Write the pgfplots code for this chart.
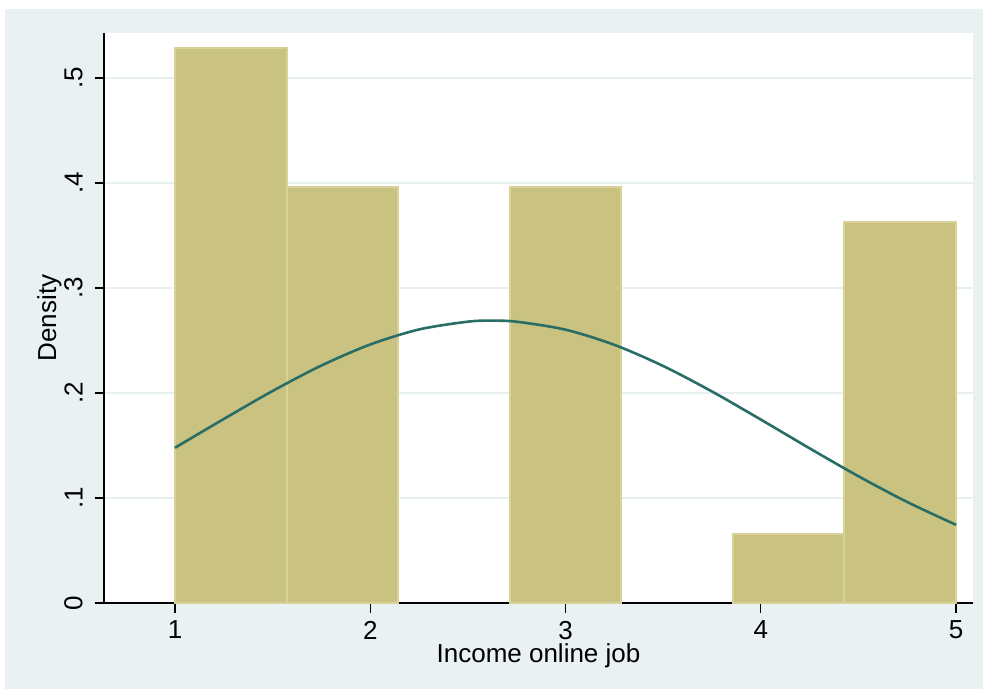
\documentclass[border=0pt]{standalone}
\usepackage{fontspec}
\setmainfont{Liberation Sans}
\usepackage{pgfplots}
\pgfplotsset{compat=1.18}

\definecolor{regionbg}{RGB}{233,241,243}
\definecolor{gridc}{RGB}{232,240,242}
\definecolor{barfill}{RGB}{202,194,128}
\definecolor{barline}{RGB}{216,209,152}
\definecolor{curvec}{RGB}{40,110,102}

\begin{document}
\begin{tikzpicture}
% page and graph region
\useasboundingbox (0,0) rectangle (491.5pt,345pt);
\fill[white] (0,0) rectangle (491.5pt,345pt);
\fill[regionbg] (2.5pt,0.5pt) rectangle (491.5pt,340.5pt);
\fill[white] (52pt,43.5pt) rectangle (486.5pt,328.5pt);
\begin{axis}[
  at={(52pt,43.5pt)}, anchor=south west,
  scale only axis, width=434.5pt, height=285pt,
  font=\fontsize{13}{15}\selectfont,
  /pgf/number format/assume math mode=true,
  xmin=0.6364, xmax=5.0871, ymin=0, ymax=0.5429,
  axis x line*=bottom, axis y line*=left,
  axis line style={black, line width=0.9pt, -},
  tick align=outside, major tick length=4.75pt,
  tick style={black, line width=0.7pt},
  xtick={1,2,3,4,5},
  ytick={0,0.1,0.2,0.3,0.4,0.5},
  yticklabels={0,.1,.2,.3,.4,.5},
  xticklabel style={anchor=north, inner sep=0pt},
  yticklabel style={rotate=90, anchor=south, inner sep=0pt},
  xticklabel shift=4pt,
  yticklabel shift=5.75pt,
  ymajorgrids,
  major grid style={draw=gridc, line width=1pt},
  xlabel={Income online job},
  ylabel={Density},
  every axis x label/.style={at={(axis description cs:0.5,-0.0702)}, anchor=north, inner sep=0pt},
  every axis y label/.style={at={(axis description cs:-0.0485,0.5)}, rotate=90, anchor=south, inner sep=0pt},
]
% histogram of the 53 responses (bin width 4/7)
\addplot[ybar, bar width=0.5714, bar shift=0pt, fill=barfill, draw=barline, line width=1pt]
  coordinates {
    (1.2857,0.5283)
    (1.8571,0.3962)
    (3.0000,0.3962)
    (4.1429,0.0660)
    (4.7143,0.3632)
  };
% normal density, mean 2.62, sd 1.48
\addplot[curvec, line width=1.3pt, smooth, no marks]
  coordinates {
    (1.00,0.14786) (1.25,0.17527) (1.50,0.20195) (1.75,0.22618)
    (2.00,0.24622) (2.25,0.26053) (2.50,0.26796) (2.6226,0.26888)
    (2.75,0.26789) (3.00,0.26032) (3.25,0.24589) (3.50,0.22575)
    (3.75,0.20145) (4.00,0.17475) (4.25,0.14734) (4.50,0.12075)
    (4.75,0.09619) (5.00,0.07448)
  };
\end{axis}
\end{tikzpicture}
\end{document}
